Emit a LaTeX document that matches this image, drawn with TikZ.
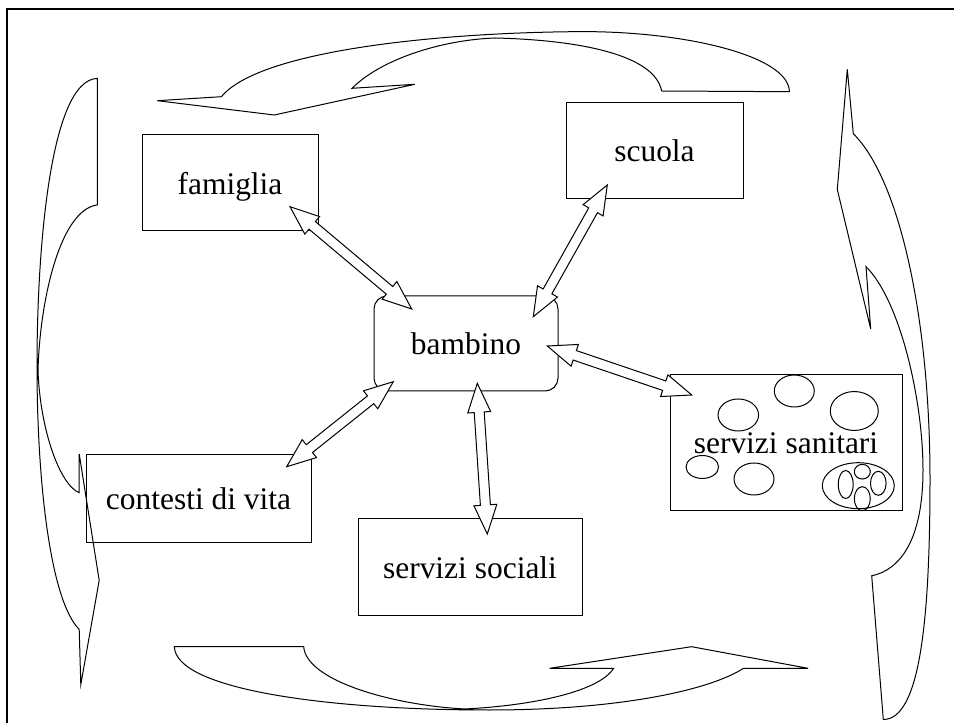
\documentclass[tikz,border=0pt]{standalone}
\usepackage{fontspec}
\setmainfont{Liberation Serif}
\usetikzlibrary{calc}
\newcommand{\dbla}[2]{%
  \coordinate (h1) at ($(#1)!21.75pt!(#2)$);
  \coordinate (h2) at ($(#2)!21.75pt!(#1)$);
  \draw[blockarrow] (#1)
    -- ($(h1)!8.6pt!90:(#2)$) -- ($(h1)!3.75pt!90:(#2)$)
    -- ($(h2)!3.75pt!-90:(#1)$) -- ($(h2)!8.6pt!-90:(#1)$)
    -- (#2)
    -- ($(h2)!8.6pt!90:(#1)$) -- ($(h2)!3.75pt!90:(#1)$)
    -- ($(h1)!3.75pt!-90:(#2)$) -- ($(h1)!8.6pt!-90:(#2)$)
    -- cycle;}
\begin{document}
\begin{tikzpicture}[x=0.75pt,y=-0.75pt,line width=0.75pt,
  box/.style={draw, inner sep=0pt, text depth=0pt, font=\fontsize{23.6}{28}\selectfont},
  blockarrow/.style={draw, fill=white, line width=0.75pt, line join=miter},
  bigarrow/.style={draw, line width=0.75pt, line join=miter},
  frameline/.style={line width=1.6pt},
  oval/.style={draw, line width=0.75pt}]
\useasboundingbox (0,0) rectangle (954,723);
% frame
\draw[frameline] (7,723) -- (7,9) -- (954,9);
% curved arrows
\draw[bigarrow] (789.4,91.7) -- (661.6,91)
  .. controls (655,55) and (580,40) .. (495,38)
  .. controls (440,40) and (380,60) .. (352.1,88.3)
  -- (414.9,84.3) -- (274.2,115) -- (157.3,100.7) -- (221.4,96.7)
  .. controls (260,50) and (440,33) .. (573,31.7)
  .. controls (680,30) and (789,55) .. (789.4,91.7) -- cycle;
\draw[bigarrow] (174.3,646.7) -- (303.7,646.7)
  .. controls (306,680) and (390,705) .. (465,709)
  .. controls (540,705) and (600,690) .. (613.7,668.3)
  -- (549.6,668.3) -- (691.6,646.7) -- (808,668.3) -- (743.5,668.3)
  .. controls (710,690) and (620,710) .. (489,710)
  .. controls (330,710) and (176,690) .. (174.3,646.7) -- cycle;
\draw[bigarrow] (97.3,78.4) -- (97.3,204.9)
  .. controls (60,210) and (40,300) .. (38,370)
  .. controls (40,430) and (60,485) .. (79.2,492.7)
  -- (79.2,453.9) -- (99.2,580.4) -- (80.8,684.5) -- (79.2,629.4)
  .. controls (50,600) and (37,480) .. (37,366)
  .. controls (37,250) and (50,80) .. (97.3,78.4) -- cycle;
\draw[bigarrow] (883.3,719.5) -- (871.7,575.8)
  .. controls (900,570) and (923,540) .. (923,470)
  .. controls (923,400) and (900,300) .. (866,266.7)
  -- (870.7,329) -- (837.3,189.5) -- (847.3,69.3) -- (853.3,133.7)
  .. controls (900,180) and (930,320) .. (930,479)
  .. controls (930,620) and (920,719.5) .. (883.3,719.5) -- cycle;
% boxes
\node[box, minimum width=132pt, minimum height=72pt] (fam) at (230,183) {famiglia};
\node[box, minimum width=132.75pt, minimum height=72pt] (scu) at (654.5,151) {scuola};
\node[box, minimum width=168.75pt, minimum height=66pt] (con) at (198.5,499) {contesti di vita};
\node[box, minimum width=168pt, minimum height=72.75pt] (soc) at (470,567.5) {servizi sociali};
\node[box, minimum width=174pt, minimum height=102pt] (san) at (786,443) {servizi sanitari};
\node[box, rounded corners=9.75pt, minimum width=138pt, minimum height=71.25pt] (bam) at (466,343.5) {bambino};
% ovals inside servizi sanitari
\draw[oval] (738.3,415) ellipse [x radius=15.2pt, y radius=12pt];
\draw[oval] (794.3,391) ellipse [x radius=15pt, y radius=12pt];
\draw[oval] (854.3,411) ellipse [x radius=18pt, y radius=14.6pt];
\draw[oval] (702.3,467) ellipse [x radius=12.2pt, y radius=8.6pt];
\draw[oval] (754,479) ellipse [x radius=15pt, y radius=12pt];
\draw[oval] (858.3,485.7) ellipse [x radius=27pt, y radius=17.25pt];
\draw[oval] (862.3,471.7) ellipse [x radius=6pt, y radius=5.5pt];
\draw[oval] (845.7,484.5) ellipse [x radius=5.6pt, y radius=10.5pt];
\draw[oval] (878.3,483.3) ellipse [x radius=5.85pt, y radius=9pt];
\draw[oval] (862.3,498.7) ellipse [x radius=6pt, y radius=9pt];
% connector end points
\coordinate (famE) at (290,206.7);
\coordinate (bamNW) at (411.7,309);
\coordinate (scuE) at (607.3,185);
\coordinate (bamNE) at (533.3,316.7);
\coordinate (bamE) at (547.3,346);
\coordinate (sanE) at (691.7,395);
\coordinate (bamSW) at (393.3,381.7);
\coordinate (conE) at (286.7,466.7);
\coordinate (bamS) at (477.3,383.3);
\coordinate (socE) at (487.3,534);
% double block arrows
\dbla{famE}{bamNW}
\dbla{scuE}{bamNE}
\dbla{bamE}{sanE}
\dbla{bamSW}{conE}
\dbla{bamS}{socE}
\end{tikzpicture}
\end{document}
